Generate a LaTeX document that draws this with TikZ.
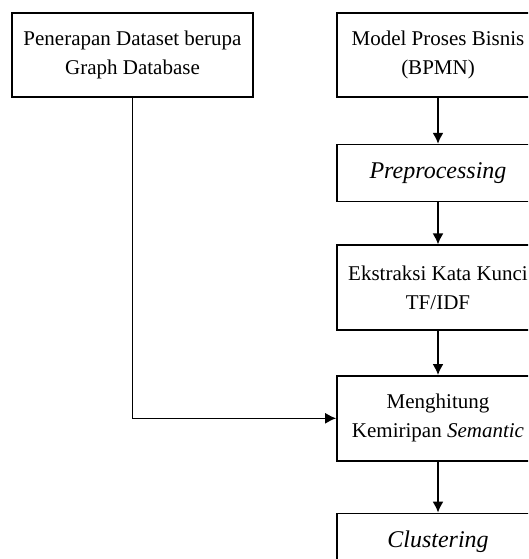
\documentclass[tikz,border=0pt]{standalone}
\usepackage{fontspec}
\setmainfont{Liberation Serif}
\usetikzlibrary{positioning}
\usetikzlibrary{arrows.meta}
\newcommand{\itx}[2][24]{{\fontsize{#1}{29}\selectfont\itshape #2}}
\tikzset{
    procbox/.style={rectangle, draw, line width=1.6pt, inner sep=0pt, align=center, minimum width=202pt, minimum height=85pt, font=\fontsize{21}{29}\selectfont},
    flowarrow/.style={line width=1.6pt, -{Latex[length=11pt,width=11pt]}}
}
\begin{document}
\begin{tikzpicture}[x=1pt, y=1pt]
    \clip (0,0) rectangle (528,-559);
    \useasboundingbox (0,0) rectangle (528,-559);

    \node (dataset) [procbox, minimum width=241pt, minimum height=84pt] at (132.5,-55) {Penerapan Dataset berupa\\Graph Database};
    \node (bpmn) [procbox, minimum height=84pt] at (438,-55) {Model Proses Bisnis\\(BPMN)};
    \node (prep) [procbox, minimum height=57pt, below=46pt of bpmn] {\itx{Preprocessing}};
    \node (tfidf) [procbox, below=42pt of prep] {Ekstraksi Kata Kunci\\TF/IDF};
    \node (semantic) [procbox, below=44pt of tfidf] {Menghitung\\Kemiripan \itx[21]{Semantic}};
    \node (cluster) [procbox, minimum height=57pt, below=51pt of semantic] {\itx{Clustering}};

    \draw [flowarrow] (bpmn.south) -- (prep.north);
    \draw [flowarrow] (prep.south) -- (tfidf.north);
    \draw [flowarrow] (tfidf.south) -- (semantic.north);
    \draw [flowarrow] (semantic.south) -- (cluster.north);
    \draw [flowarrow] (dataset.south) |- (semantic.west);
\end{tikzpicture}
\end{document}
